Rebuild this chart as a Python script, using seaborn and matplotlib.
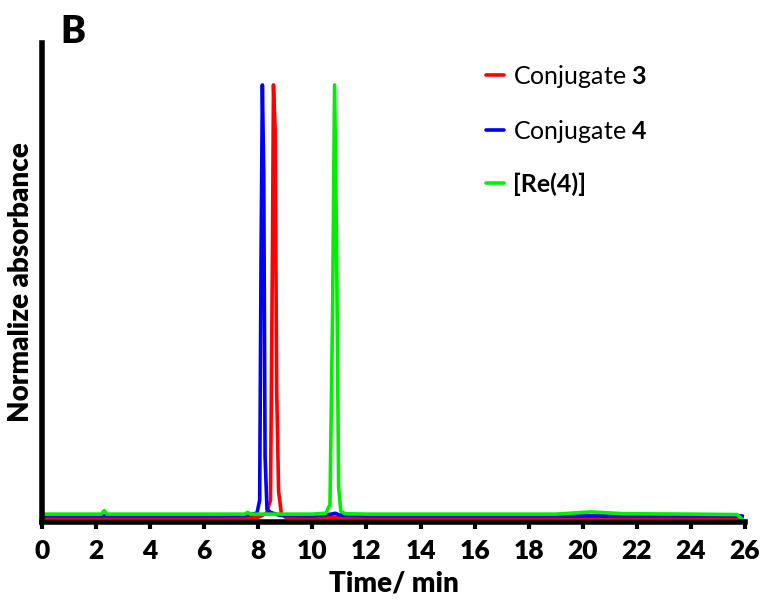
import matplotlib
matplotlib.use("Agg")
import matplotlib.pyplot as plt
import seaborn as sns
import pandas as pd
from matplotlib.lines import Line2D

# ---- data ----
red_t = [0.1, 2.0, 4.0, 6.0, 7.5, 8.0, 8.3, 8.45, 8.52, 8.56, 8.62, 8.68, 8.75, 8.85, 9.0, 10.0, 12.0, 16.0, 20.0, 24.0, 25.9]
red_y = [0.011, 0.011, 0.011, 0.011, 0.011, 0.011, 0.02, 0.05, 0.6, 1.0, 0.9, 0.3, 0.07, 0.02, 0.011, 0.011, 0.011, 0.011, 0.011, 0.011, 0.011]

blue_t = [0.1, 2.0, 4.0, 6.0, 7.5, 7.95, 8.05, 8.1, 8.15, 8.2, 8.25, 8.32, 8.45, 8.8, 10.0, 10.7, 10.85, 11.0, 12.0, 16.0, 20.0, 24.0, 25.9]
blue_y = [0.014, 0.014, 0.014, 0.014, 0.015, 0.02, 0.05, 0.6, 1.0, 0.8, 0.15, 0.03, 0.022, 0.015, 0.014, 0.018, 0.02, 0.016, 0.014, 0.014, 0.014, 0.014, 0.014]

green_t = [0.1, 2.2, 2.3, 2.4, 4.0, 6.0, 7.5, 7.6, 7.7, 8.5, 10.0, 10.5, 10.65, 10.75, 10.82, 10.9, 10.97, 11.05, 11.2, 12.0, 16.0, 19.0, 20.3, 21.5, 24.0, 25.7, 25.9]
green_y = [0.018, 0.018, 0.026, 0.018, 0.018, 0.018, 0.018, 0.022, 0.018, 0.018, 0.018, 0.02, 0.04, 0.5, 1.0, 0.6, 0.08, 0.025, 0.019, 0.018, 0.018, 0.018, 0.023, 0.019, 0.018, 0.017, 0.006]

labels = ["Conjugate $\\mathbf{3}$", "Conjugate $\\mathbf{4}$", "[Re(4)]"]
colors = ["#ff0000", "#0000ff", "#00ee00"]
xticks = list(range(0, 27, 2))

sns.set_theme(style="white")
plt.rcParams["font.family"] = ["Lato", "DejaVu Sans"]
plt.rcParams["mathtext.fontset"] = "custom"
plt.rcParams["mathtext.rm"] = "Lato"
plt.rcParams["mathtext.bf"] = "Lato:bold"
plt.rcParams["text.color"] = "black"
plt.rcParams["axes.labelcolor"] = "black"
plt.rcParams["xtick.color"] = "black"

fig = plt.figure(figsize=(7.65, 6.02), dpi=100)
ax = fig.add_axes([0.0549, 0.1329, 0.919, 0.7957])

series = [(red_t, red_y), (blue_t, blue_y), (green_t, green_y)]
for (t, y), c in zip(series, colors):
    df = pd.DataFrame({"t": t, "y": y})
    sns.lineplot(data=df, x="t", y="y", ax=ax, color=c, lw=2.6, sort=False,
                 estimator=None)

ax.set_xlim(0, 26)
ax.set_ylim(0, 1.096)
ax.set_xticks(xticks)
ax.set_xticklabels([str(v) for v in xticks], fontsize=19, fontweight="heavy")
ax.set_yticks([])
ax.tick_params(axis="x", direction="out", length=5, width=3, color="black",
               labelcolor="black", pad=7, bottom=True)
for s in ["top", "right"]:
    ax.spines[s].set_visible(False)
for s in ["left", "bottom"]:
    ax.spines[s].set_linewidth(4)
    ax.spines[s].set_color("black")

ax.set_xlabel("Time/ min", fontsize=20, fontweight="heavy", labelpad=6, color="black")
ax.set_ylabel("Normalize absorbance", fontsize=20, fontweight="heavy", labelpad=6, color="black")

handles = [Line2D([0], [0], color=c, lw=2.6) for c in colors]
leg = ax.legend(handles, labels, loc="upper left", bbox_to_anchor=(0.6, 1.005),
                frameon=False, fontsize=18, handlelength=0.7, handletextpad=0.35,
                labelspacing=1.1, labelcolor="black")
leg.get_texts()[2].set_fontweight("bold")

fig.text(0.079, 0.928, "B", fontsize=27, fontweight="heavy", color="black")

fig.savefig("out.png", dpi=100)
